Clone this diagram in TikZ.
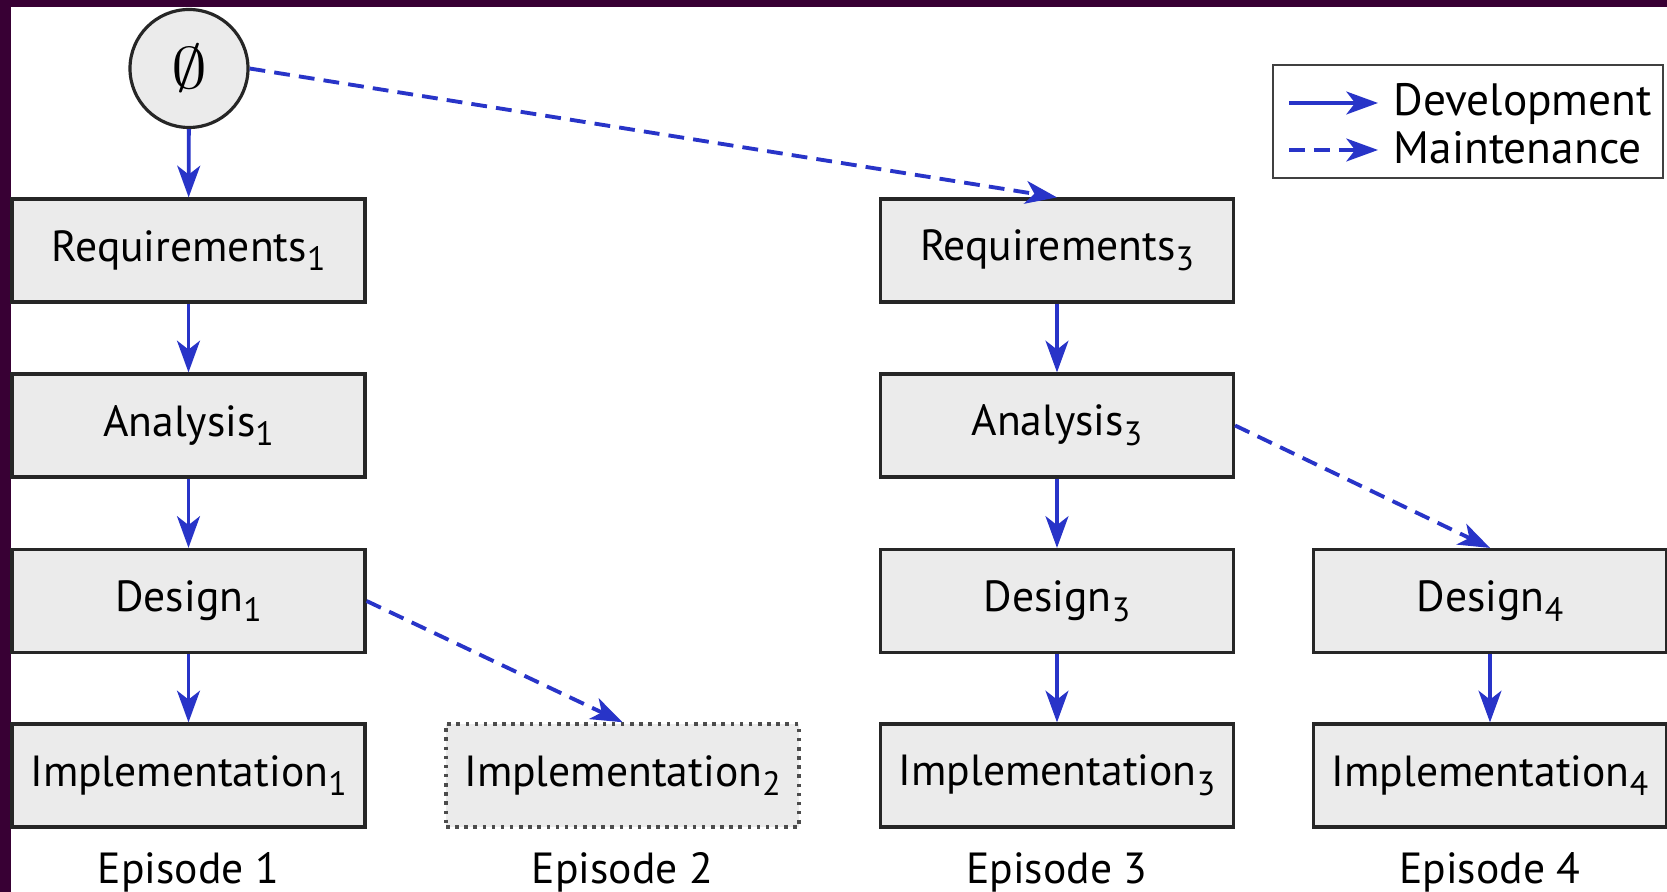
\documentclass[tikz,border=0pt]{standalone}
\usepackage{fontspec}
\setmainfont{PT Sans}
\usepackage{amssymb}
\usetikzlibrary{arrows.meta,positioning}
\definecolor{plum}{RGB}{56,0,52}
\definecolor{flowblue}{RGB}{40,52,200}
\definecolor{boxgray}{RGB}{235,235,235}
\newcommand{\epi}[1]{\raisebox{-0.45ex}{\fontsize{9.6}{10}\selectfont #1}}

\begin{document}
\begin{tikzpicture}[font=\fontsize{12.4}{15}\selectfont, >={Stealth[length=9pt,width=6.5pt,inset=2.5pt]}]
\tikzset{
  phase/.style={draw=black!85, line width=0.9pt, fill=boxgray, minimum width=3.53cm, minimum height=1.03cm, inner sep=0pt},
  ghost/.style={phase, draw=black!70, line width=1pt, dash pattern=on 1pt off 1.6pt},
  dev/.style={->, flowblue, line width=1.1pt},
  mnt/.style={dev, dash pattern=on 4.5pt off 2.6pt},
  episode/.style={anchor=base}
}
\useasboundingbox (0,0) rectangle (16.67,8.92);
\fill[plum] (0,0) rectangle (16.67,8.92);
\fill[white] (0.11,0) rectangle (16.67,8.845);
\def\ca{1.885} \def\cb{6.225} \def\cc{10.57} \def\cd{14.90}
\def\ra{6.415} \def\rb{4.665} \def\rc{2.91} \def\rd{1.165}

% empty start
\node[circle, draw=black!85, line width=0.9pt, fill=boxgray, minimum size=1.18cm, inner sep=0pt] (start) at (1.89,8.235) {\resizebox{0.36cm}{0.44cm}{$\emptyset$}};

% full episodes
\foreach \n/\x in {1/\ca, 3/\cc}{
  \node[phase] (req\n) at (\x,\ra) {Requirements\epi{\n}};
  \node[phase] (ana\n) at (\x,\rb) {Analysis\epi{\n}};
  \node[phase] (des\n) at (\x,\rc) {Design\epi{\n}};
  \node[phase] (imp\n) at (\x,\rd) {Implementation\epi{\n}};
  \draw[dev] (req\n) -- (ana\n);
  \draw[dev] (ana\n) -- (des\n);
  \draw[dev] (des\n) -- (imp\n);
}
\node[ghost] (imp2) at (\cb,\rd) {Implementation\epi{2}};
\node[phase] (des4) at (\cd,\rc) {Design\epi{4}};
\node[phase] (imp4) at (\cd,\rd) {Implementation\epi{4}};
\draw[dev] (des4) -- (imp4);

\foreach \n/\x in {1/\ca, 2/\cb, 3/\cc, 4/\cd}
  \node[episode] (ep\n) at (\x,0.08) {Episode \n};

\draw[dev] (start) -- (req1);
\draw[mnt] (start.east) -- (req3.north);
\draw[mnt] (des1.east) -- (imp2.north);
\draw[mnt] (ana3.east) -- (des4.north);

% legend
\node[draw=black!75, line width=0.8pt, fill=white, minimum width=3.9cm, minimum height=1.13cm] (legend) at (14.68,7.705) {};
\node[anchor=base west, inner xsep=0.15cm, inner ysep=0pt, font=\fontsize{12.9}{15}\selectfont] (devlbl) at (13.78,7.76) {Development};
\node[anchor=base west, inner xsep=0.15cm, inner ysep=0pt, font=\fontsize{12.9}{15}\selectfont] (mntlbl) at (13.78,7.28) {Maintenance};
\coordinate (devtail) at (12.89,7.89);
\coordinate (mnttail) at (12.89,7.42);
\draw[dev] (devtail) -- (devtail -| devlbl.west);
\draw[mnt] (mnttail) -- (mnttail -| mntlbl.west);
\end{tikzpicture}
\end{document}
